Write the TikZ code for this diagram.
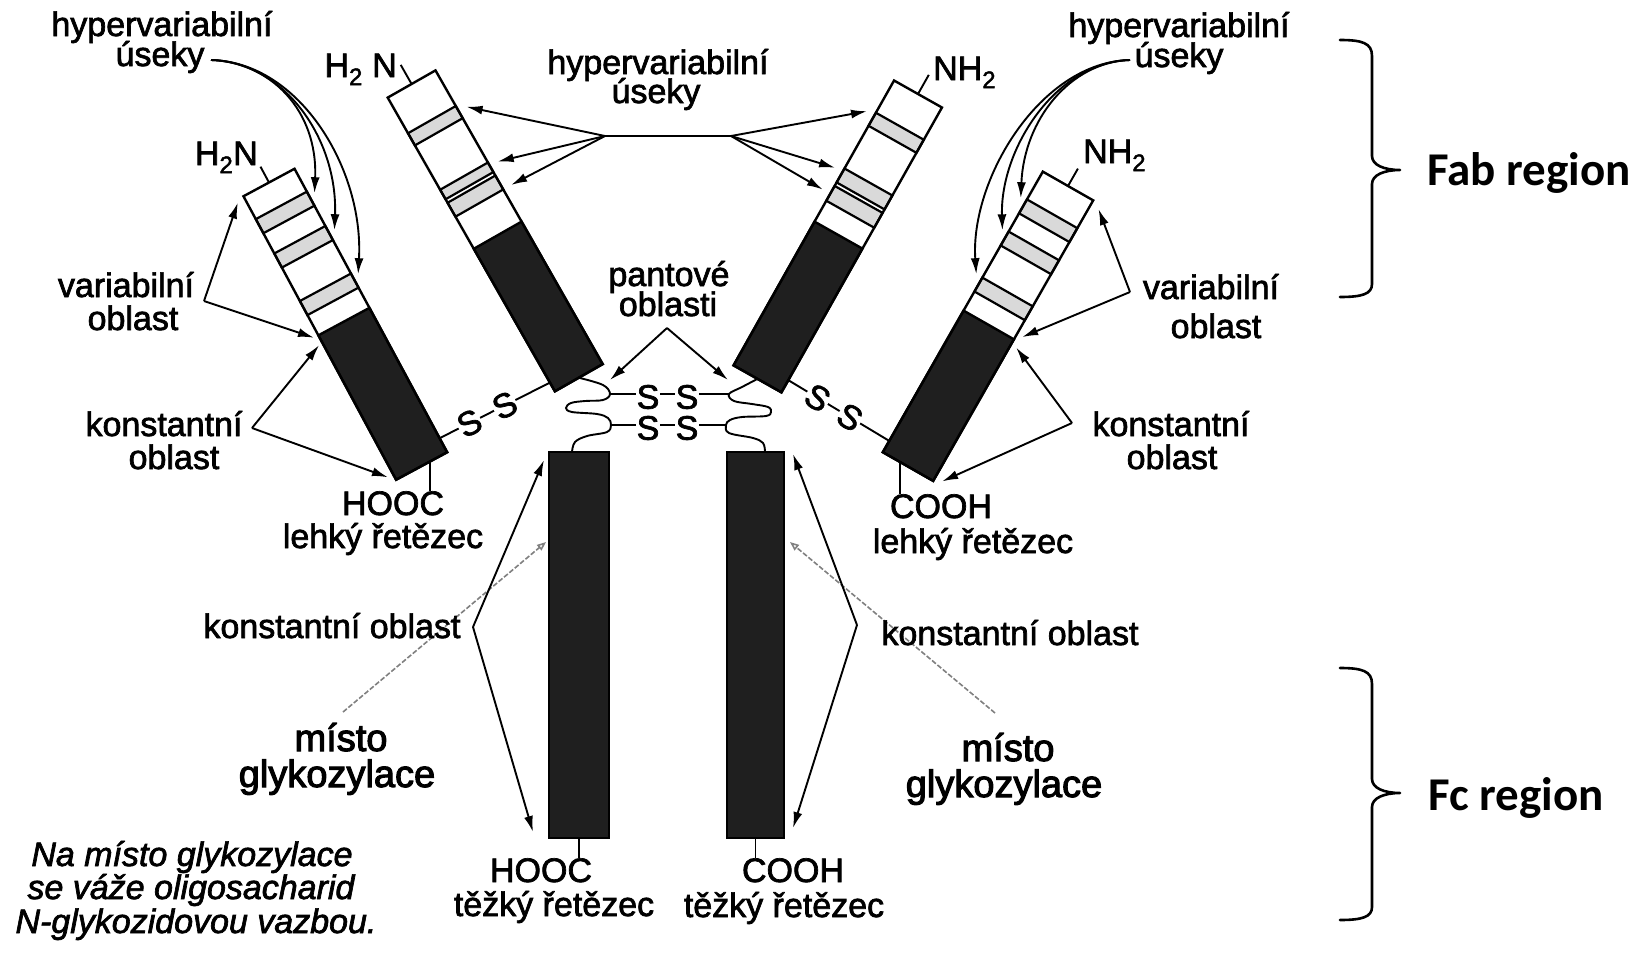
\documentclass[tikz,border=0pt]{standalone}
\usepackage{fontspec}
\setmainfont{Liberation Sans}
\newfontfamily\labfont{Liberation Sans}[FakeBold=2]
\newfontfamily\heavyfont{Liberation Sans}[FakeBold=2.8]
\newfontfamily\regionfont{Carlito}
\usetikzlibrary{arrows.meta,calc}
\begin{document}
\begin{tikzpicture}[x=1pt,y=-1pt,
  lbl/.style={inner sep=0pt,anchor=base,font=\labfont\fontsize{34}{34}\selectfont},
  big/.style={inner sep=0pt,anchor=base,font=\heavyfont\fontsize{38}{38}\selectfont},
  note/.style={inner sep=0pt,anchor=base,font=\labfont\itshape\fontsize{34}{34}\selectfont},
  region/.style={inner sep=0pt,anchor=base west,font=\regionfont\bfseries\fontsize{47}{47}\selectfont},
  ptr/.style={line width=1.9pt,-{Latex[length=16pt,width=9pt]}},
  wire/.style={line width=1.9pt},
  outline/.style={draw=black,line width=2.4pt},
  dark/.style={fill=black!88,draw=black,line width=2.4pt},
  hyper/.style={fill=gray!30,draw=black,line width=2.2pt},
  heavybar/.style={fill=black!88,draw=black,line width=1.5pt,inner sep=0pt,minimum height=386pt},
  glyco/.style={gray,line width=1.6pt,dash pattern=on 5pt off 2pt,-{Triangle[open,length=9pt,width=7pt]}},
  ess/.style={inner sep=0.5pt,fill=white,font=\labfont\fontsize{34}{34}\selectfont},
  brace/.style={line width=2.6pt,line join=round,line cap=round},
]
\fill[white] (0,0) rectangle (1638,956);
\useasboundingbox (0,0) rectangle (1638,956);

% ---------- left light chain ----------
\begin{scope}[shift={(269,182.5)},rotate=-61.7]
  \fill[white] (0,-29) rectangle (158,29);
  \filldraw[hyper] (26,-29) rectangle (42,29);
  \filldraw[hyper] (65,-29) rectangle (81,29);
  \filldraw[hyper] (119,-29) rectangle (135,29);
  \filldraw[dark] (158,-29) rectangle (322,29);
  \draw[outline] (0,-29) rectangle (322,29);
  \coordinate (LLtop) at (0,0);
  \coordinate (LLn) at (-18,0);
  \coordinate (LLb1) at (31,-35);
  \coordinate (LLb2) at (73,-35);
  \coordinate (LLb3) at (123,-35);
  \coordinate (LLv1) at (3,37);
  \coordinate (LLv2) at (158,34);
  \coordinate (LLk1) at (167,33);
  \coordinate (LLk2) at (316,35);
  \coordinate (LLss) at (306,-29);
  \coordinate (LLbot) at (322,-9.5);
\end{scope}

% ---------- left heavy chain (Fab part) ----------
\begin{scope}[shift={(411.6,84)},rotate=-60.35]
  \fill[white] (0,-27.5) rectangle (174,27.5);
  \filldraw[hyper] (41,-27.5) rectangle (55,27.5);
  \filldraw[hyper] (106,-27.5) rectangle (117,27.5);
  \filldraw[hyper] (121,-27.5) rectangle (137,27.5);
  \filldraw[dark] (174,-27.5) rectangle (338,27.5);
  \draw[outline] (0,-27.5) rectangle (338,27.5);
  \coordinate (LHtop) at (0,0);
  \coordinate (LHn) at (-22,0);
  \coordinate (LHb1) at (47,-36.5);
  \coordinate (LHb2) at (110,-36.5);
  \coordinate (LHb3) at (137,-36.5);
  \coordinate (LHss) at (328,27.5);
  \coordinate (LHbot) at (338,0);
\end{scope}

% ---------- right heavy chain (Fab part) ----------
\begin{scope}[shift={(918,94)},rotate=-119.4]
  \fill[white] (0,-27.5) rectangle (162,27.5);
  \filldraw[hyper] (37,-27.5) rectangle (52,27.5);
  \filldraw[hyper] (101,-27.5) rectangle (117,27.5);
  \filldraw[hyper] (121,-27.5) rectangle (138,27.5);
  \filldraw[dark] (162,-27.5) rectangle (327,27.5);
  \draw[outline] (0,-27.5) rectangle (327,27.5);
  \coordinate (RHtop) at (0,0);
  \coordinate (RHn) at (-22,0);
  \coordinate (RHb1) at (40,36);
  \coordinate (RHb2) at (105,36);
  \coordinate (RHb3) at (130,36);
  \coordinate (RHss) at (313,-27.5);
  \coordinate (RHbot) at (327,0);
\end{scope}

% ---------- right light chain ----------
\begin{scope}[shift={(1068,186)},rotate=-119.7]
  \fill[white] (0,-29) rectangle (160,29);
  \filldraw[hyper] (32,-29) rectangle (48,29);
  \filldraw[hyper] (69,-29) rectangle (85,29);
  \filldraw[hyper] (122,-29) rectangle (138,29);
  \filldraw[dark] (160,-29) rectangle (323,29);
  \draw[outline] (0,-29) rectangle (323,29);
  \coordinate (RLtop) at (0,0);
  \coordinate (RLn) at (-20,0);
  \coordinate (RLb1) at (34,35);
  \coordinate (RLb2) at (71,35);
  \coordinate (RLb3) at (122,36);
  \coordinate (RLv1) at (5,-38);
  \coordinate (RLv2) at (154,-35);
  \coordinate (RLk1) at (166,-35);
  \coordinate (RLk2) at (319,-37);
  \coordinate (RLss) at (310,29);
  \coordinate (RLbot) at (323,9);
\end{scope}

% ---------- heavy chains (Fc part) ----------
\node[heavybar,minimum width=60pt] (HB1) at (579,645) {};
\node[heavybar,minimum width=57pt] (HB2) at (755.5,645) {};

% ---------- hinge with disulfide bridges ----------
\coordinate (SSu1) at (610,394);
\coordinate (SSu2) at (729,394);
\coordinate (SSl1) at (611,425);
\coordinate (SSl2) at (726,425);
\draw[wire] plot[smooth,tension=0.6] coordinates {(LHbot) (603,385) (SSu1) (603,400) (585,401) (571,403) (566,408) (572,412) (597,414) (608,418) (SSl1) (607,432) (587,436) (575,442) (572,452)};
\draw[wire] plot[smooth,tension=0.6] coordinates {(RHbot) (742,387) (SSu2) (734,401) (752,404) (768,407) (771,412) (766,416) (742,417) (730,420) (SSl2) (729,433) (753,438) (763,443) (765,452)};
\draw[wire] (SSu1) -- (SSu2);
\draw[wire] (SSl1) -- (SSl2);
\node[ess] (s1) at (648,397) {S};
\node[ess] (s2) at (687,397) {S};
\node[ess] (s3) at (648,428) {S};
\node[ess] (s4) at (687,428) {S};

% light--heavy disulfide bridges
\draw[wire] (LLss) -- (LHss);
\node[ess,rotate=27] (s5) at ($(LLss)!0.27!(LHss)$) {S};
\node[ess,rotate=27] (s6) at ($(LLss)!0.59!(LHss)$) {S};
\draw[wire] (RHss) -- (RLss);
\node[ess,rotate=-31] (s7) at ($(RHss)!0.29!(RLss)$) {S};
\node[ess,rotate=-31] (s8) at ($(RHss)!0.61!(RLss)$) {S};

% ---------- termini ----------
\node[lbl,anchor=base east] (LLnh) at (258,165) {H\textsubscript{2}N};
\node[lbl,anchor=base east] (LHnh) at (397,77) {H\textsubscript{2} N};
\node[lbl,anchor=base west] (RHnh) at (933,80) {NH\textsubscript{2}};
\node[lbl,anchor=base west] (RLnh) at (1083,163) {NH\textsubscript{2}};
\draw[wire] (LLn) -- (LLtop);
\draw[wire] (LHn) -- (LHtop);
\draw[wire] (RHn) -- (RHtop);
\draw[wire] (RLn) -- (RLtop);

\node[lbl] (LLc) at (393,515) {HOOC};
\node[lbl] (LLname) at (383,548) {lehký řetězec};
\node[lbl] (RLc) at (941,518) {COOH};
\node[lbl] (RLname) at (973,553) {lehký řetězec};
\draw[wire] (LLbot) -- (LLbot |- LLc.north);
\draw[wire] (RLbot) -- (RLbot |- RLc.north);

\node[lbl] (HB1c) at (541,882) {HOOC};
\node[lbl] (HB1name) at (554,916) {těžký řetězec};
\node[lbl] (HB2c) at (793,882) {COOH};
\node[lbl] (HB2name) at (784,917) {těžký řetězec};
\draw[wire] (HB1.south) -- (HB1.south |- HB1c.north);
\draw[wire] (HB2.south) -- (HB2.south |- HB2c.north);

% ---------- hypervariable segments ----------
\node[lbl] (tlh1) at (162,36) {hypervariabilní};
\node[lbl] (tlh2) at (160,66) {úseky};
\coordinate (TLs) at (211,60);
\draw[ptr] (TLs) .. controls (270,62) and (318,110) .. (LLb1);
\draw[ptr] (TLs) .. controls (285,62) and (338,140) .. (LLb2);
\draw[ptr] (TLs) .. controls (300,62) and (364,170) .. (LLb3);

\node[lbl] (mh1) at (658,74) {hypervariabilní};
\node[lbl] (mh2) at (656,103) {úseky};
\coordinate (J1) at (605,136);
\coordinate (J2) at (731,136);
\draw[wire] (J1) -- (J2);
\draw[ptr] (J1) -- (LHb1);
\draw[ptr] (J1) -- (LHb2);
\draw[ptr] (J1) -- (LHb3);
\draw[ptr] (J2) -- (RHb1);
\draw[ptr] (J2) -- (RHb2);
\draw[ptr] (J2) -- (RHb3);

\node[lbl] (trh1) at (1179,37) {hypervariabilní};
\node[lbl] (trh2) at (1179,67) {úseky};
\coordinate (TRs) at (1130,60);
\draw[ptr] (TRs) .. controls (1070,62) and (1024,120) .. (RLb1);
\draw[ptr] (TRs) .. controls (1055,62) and (1000,150) .. (RLb2);
\draw[ptr] (TRs) .. controls (1040,62) and (970,180) .. (RLb3);

% ---------- variable / constant regions ----------
\node[lbl] (vl1) at (126,297) {variabilní};
\node[lbl] (vl2) at (133,330) {oblast};
\coordinate (VLa) at (204,301);
\draw[ptr] (VLa) -- (LLv1);
\draw[ptr] (VLa) -- (LLv2);

\node[lbl] (kl1) at (164,436) {konstantní};
\node[lbl] (kl2) at (174,469) {oblast};
\coordinate (KLa) at (252,428);
\draw[ptr] (KLa) -- (LLk1);
\draw[ptr] (KLa) -- (LLk2);

\node[lbl] (vr1) at (1211,299) {variabilní};
\node[lbl] (vr2) at (1216,338) {oblast};
\coordinate (VRa) at (1130,292);
\draw[ptr] (VRa) -- (RLv1);
\draw[ptr] (VRa) -- (RLv2);

\node[lbl] (kr1) at (1171,436) {konstantní};
\node[lbl] (kr2) at (1172,469) {oblast};
\coordinate (KRa) at (1072,423);
\draw[ptr] (KRa) -- (RLk1);
\draw[ptr] (KRa) -- (RLk2);

\node[lbl] (pa1) at (669,286) {pantové};
\node[lbl] (pa2) at (668,316) {oblasti};
\coordinate (PA) at (667,328);
\coordinate (PT1) at (610,380);
\coordinate (PT2) at (728,380);
\draw[ptr] (PA) -- (PT1);
\draw[ptr] (PA) -- (PT2);

% ---------- glycosylation sites ----------
\coordinate (GLs) at (343,712);
\coordinate (GLe) at (546,542);
\coordinate (GRs) at (995,713);
\coordinate (GRe) at (790,542);
\draw[glyco] (GLs) -- (GLe);
\draw[glyco] (GRs) -- (GRe);

\node[lbl] (kfl) at (332,638) {konstantní oblast};
\coordinate (HLka) at (473,627);
\coordinate (HLk1) at (544,460);
\coordinate (HLk2) at (533,832);
\draw[ptr] (HLka) -- (HLk1);
\draw[ptr] (HLka) -- (HLk2);

\node[lbl] (kfr) at (1010,645) {konstantní oblast};
\coordinate (HRka) at (857,625);
\coordinate (HRk1) at (793,454);
\coordinate (HRk2) at (793,828);
\draw[ptr] (HRka) -- (HRk1);
\draw[ptr] (HRka) -- (HRk2);

\node[big] (gl1) at (341,751) {místo};
\node[big] (gl2) at (337,787) {glykozylace};
\node[big] (gr1) at (1008,761) {místo};
\node[big] (gr2) at (1004,797) {glykozylace};

\node[note] (n1) at (192,866) {Na místo glykozylace};
\node[note] (n2) at (191,899) {se váže oligosacharid};
\node[note] (n3) at (196,933) {N-glykozidovou vazbou.};

% ---------- regions ----------
\draw[brace] (1340,40) .. controls (1362,40) and (1372,43) .. (1372,56) -- (1372,156) .. controls (1372,165) and (1384,170) .. (1400,170) .. controls (1384,170) and (1372,175) .. (1372,184) -- (1372,284) .. controls (1372,294) and (1362,297) .. (1340,297);
\node[region] (fab) at (1427,185) {Fab region};
\draw[brace] (1340,668) .. controls (1362,668) and (1372,671) .. (1372,684) -- (1372,779) .. controls (1372,788) and (1384,793) .. (1400,793) .. controls (1384,793) and (1372,798) .. (1372,807) -- (1372,907) .. controls (1372,917) and (1362,920) .. (1340,920);
\node[region] (fc) at (1428,810) {Fc region};
\end{tikzpicture}
\end{document}
